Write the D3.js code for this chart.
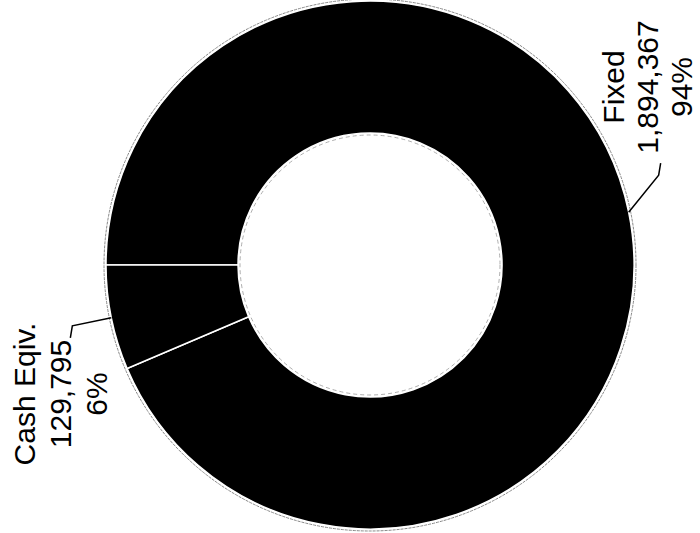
<!DOCTYPE html>
<html>
<head>
<meta charset="utf-8">
<script src="https://cdn.jsdelivr.net/npm/d3@7"></script>
<style>
  html, body { margin: 0; padding: 0; background: #fff; }
  svg { display: block; }
  text { font-family: "Liberation Sans", Arial, sans-serif; fill: #000; }
</style>
</head>
<body>
<div id="chart"></div>
<script>
// Data
const categories = ["Fixed", "Cash Eqiv."];
const values = [1894367, 129795];
const percentLabels = ["94%", "6%"];

const W = 700, H = 533;
const cx = 370, cy = 265;
const outerR = 264, innerR = 132;

const svg = d3.select("#chart").append("svg")
  .attr("width", W).attr("height", H);

const g = svg.append("g").attr("transform", `translate(${cx},${cy})`);

const pie = d3.pie().sort(null)
  .startAngle(-Math.PI / 2).endAngle(3 * Math.PI / 2);
const arcs = pie(values);

const arc = d3.arc().innerRadius(innerR).outerRadius(outerR);

// faint rings (scanned look)
g.append("circle").attr("r", outerR + 2)
  .attr("fill", "none").attr("stroke", "#888").attr("stroke-width", 1).attr("stroke-dasharray", "3,1");
g.append("circle").attr("r", innerR - 2)
  .attr("fill", "none").attr("stroke", "#999").attr("stroke-width", 0.8).attr("stroke-dasharray", "4,3");

g.selectAll("path.slice").data(arcs).enter().append("path")
  .attr("class", "slice")
  .attr("d", arc)
  .attr("fill", "#000")
  .attr("stroke", "#fff")
  .attr("stroke-width", 1.5);

// label layout (screen geometry)
const fmt = d3.format(",");
const labelLayout = [
  { baseX: [624, 658, 692], centerY: 87, elbow: [30, -37], hook: [2, -12] },
  { baseX: [35, 71, 107], centerY: 394, elbow: [-39, 8], hook: [-2, 12] }
];

arcs.forEach((a, i) => {
  const mid = (a.startAngle + a.endAngle) / 2;
  const sx = cx + outerR * Math.sin(mid);
  const sy = cy - outerR * Math.cos(mid);
  const L = labelLayout[i];
  const ex = sx + L.elbow[0], ey = sy + L.elbow[1];
  const hx = ex + L.hook[0], hy = ey + L.hook[1];
  svg.append("polyline")
    .attr("points", `${sx},${sy} ${ex},${ey} ${hx},${hy}`)
    .attr("fill", "none").attr("stroke", "#000").attr("stroke-width", 1.5);

  const lines = [categories[i], fmt(values[i]), percentLabels[i]];
  lines.forEach((t, j) => {
    svg.append("text")
      .attr("transform", `translate(${L.baseX[j]},${L.centerY}) rotate(-90)`)
      .attr("text-anchor", "middle")
      .attr("font-size", 30)
      .text(t);
  });
});
</script>
</body>
</html>
